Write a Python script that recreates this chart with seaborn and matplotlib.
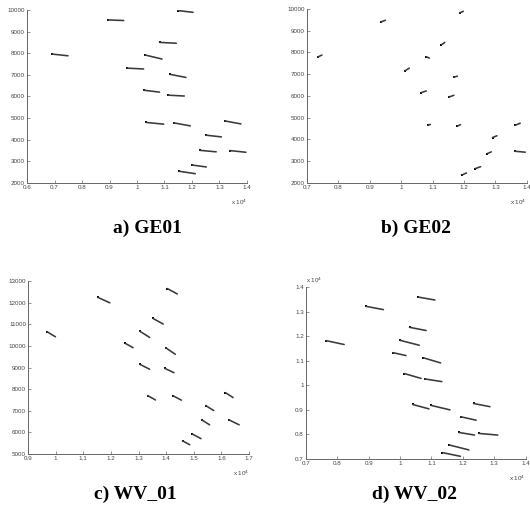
import matplotlib
matplotlib.use("Agg")
import matplotlib.pyplot as plt
import seaborn as sns
import pandas as pd
import numpy as np
from matplotlib.ticker import FuncFormatter, FixedLocator

sns.set_style("white")
plt.rcParams['font.family'] = ['Liberation Sans', 'DejaVu Sans']

# ---- data: start (x0,y0) and end (x1,y1) of each displacement segment ----
ge01_x0 = [11490, 8945, 10820, 6910, 10300, 9640, 11210, 10240, 11130, 10330, 11330, 13190, 12510, 12280, 13370, 12000, 11540]
ge01_y0 = [9970, 9540, 8500, 7960, 7915, 7310, 7020, 6290, 6060, 4800, 4780, 4870, 4210, 3510, 3500, 2830, 2540]
ge01_x1 = [12040, 9515, 11430, 7490, 10910, 10240, 11780, 10820, 11720, 10970, 11940, 13780, 13070, 12880, 13960, 12520, 12120]
ge01_y1 = [9890, 9510, 8460, 7880, 7730, 7270, 6880, 6200, 6020, 4720, 4640, 4730, 4130, 3440, 3420, 2740, 2430]

ge02_x0 = [7340, 9360, 11860, 11280, 10800, 10120, 11670, 10630, 11520, 10850, 11790, 13630, 12910, 12740, 13610, 12360, 11940]
ge02_y0 = [7785, 9400, 9815, 8350, 7800, 7150, 6860, 6150, 5950, 4650, 4615, 4650, 4090, 3350, 3460, 2660, 2370]
ge02_x1 = [7480, 9500, 11980, 11390, 10900, 10260, 11790, 10800, 11680, 10930, 11890, 13790, 13050, 12870, 13950, 12530, 12080]
ge02_y1 = [7880, 9480, 9890, 8460, 7740, 7280, 6910, 6230, 6030, 4690, 4680, 4750, 4170, 3430, 3415, 2750, 2460]

wv01_x0 = [9690, 11530, 14040, 13520, 13040, 12520, 13980, 13040, 13950, 13330, 14250, 16140, 15430, 15285, 16270, 14950, 14590]
wv01_y0 = [10650, 12240, 12650, 11270, 10680, 10115, 9915, 9150, 8960, 7700, 7690, 7840, 7240, 6580, 6580, 5920, 5610]
wv01_x1 = [9990, 11960, 14400, 13890, 13400, 12800, 14330, 13400, 14280, 13610, 14550, 16420, 15720, 15570, 16640, 15260, 14850]
wv01_y1 = [10420, 11990, 12400, 11010, 10390, 9915, 9610, 8920, 8760, 7500, 7490, 7610, 7010, 6350, 6350, 5710, 5430]

wv02_x0 = [7640, 8930, 10580, 10300, 10000, 9770, 10740, 10130, 10780, 10400, 10990, 12340, 11930, 11880, 12520, 11570, 11350]
wv02_y0 = [11820, 13210, 13590, 12360, 11830, 11330, 11120, 10480, 10260, 9220, 9180, 9260, 8720, 8080, 8040, 7570, 7260]
wv02_x1 = [8220, 9470, 11110, 10830, 10610, 10190, 11290, 10670, 11330, 10920, 11590, 12860, 12420, 12370, 13110, 12190, 11920]
wv02_y1 = [11660, 13080, 13470, 12230, 11630, 11210, 10910, 10280, 10150, 9040, 9000, 9130, 8580, 7975, 7975, 7370, 7110]

titles = ["a) GE01", "b) GE02", "c) WV_01", "d) WV_02"]
x_ticks = [[6000, 7000, 8000, 9000, 10000, 11000, 12000, 13000, 14000],
           [7000, 8000, 9000, 10000, 11000, 12000, 13000, 14000],
           [9000, 10000, 11000, 12000, 13000, 14000, 15000, 16000, 17000],
           [7000, 8000, 9000, 10000, 11000, 12000, 13000, 14000]]
y_ticks = [[2000, 3000, 4000, 5000, 6000, 7000, 8000, 9000, 10000],
           [2000, 3000, 4000, 5000, 6000, 7000, 8000, 9000, 10000],
           [5000, 6000, 7000, 8000, 9000, 10000, 11000, 12000, 13000],
           [7000, 8000, 9000, 10000, 11000, 12000, 13000, 14000]]

panels = [(ge01_x0, ge01_y0, ge01_x1, ge01_y1),
          (ge02_x0, ge02_y0, ge02_x1, ge02_y1),
          (wv01_x0, wv01_y0, wv01_x1, wv01_y1),
          (wv02_x0, wv02_y0, wv02_x1, wv02_y1)]

# axes rectangles in figure fraction
rects = [[0.051, 0.6447, 0.415, 0.336],
         [0.579, 0.6447, 0.415, 0.338],
         [0.053, 0.1184, 0.417, 0.336],
         [0.577, 0.1087, 0.415, 0.334]]
title_pos = [(147, 228), (416, 228), (135, 494), (415, 494)]
y_scaled = [False, False, False, True]

fig = plt.figure(figsize=(5.30, 5.15), dpi=100)
fmt = FuncFormatter(lambda v, p: "%g" % round(v / 1e4, 3))
plain = FuncFormatter(lambda v, p: "%d" % v)

for i, (x0, y0, x1, y1) in enumerate(panels):
    ax = fig.add_axes(rects[i])
    rows = []
    for k in range(len(x0)):
        rows.append({"id": k, "x": x0[k], "y": y0[k]})
        rows.append({"id": k, "x": x1[k], "y": y1[k]})
    seg = pd.DataFrame(rows)
    sns.lineplot(data=seg, x="x", y="y", units="id", estimator=None, sort=False,
                 color="#3a3a3a", linewidth=1.15, ax=ax)
    starts = pd.DataFrame({"x": x0, "y": y0})
    sns.scatterplot(data=starts, x="x", y="y", color="black", s=4, marker="s",
                    linewidth=0, ax=ax)
    ax.set_xlim(x_ticks[i][0], x_ticks[i][-1])
    ax.set_ylim(y_ticks[i][0], y_ticks[i][-1])
    ax.xaxis.set_major_locator(FixedLocator(x_ticks[i]))
    ax.yaxis.set_major_locator(FixedLocator(y_ticks[i]))
    ax.xaxis.set_major_formatter(fmt)
    ax.yaxis.set_major_formatter(fmt if y_scaled[i] else plain)
    ax.set_xlabel("")
    ax.set_ylabel("")
    for s in ["top", "right"]:
        ax.spines[s].set_visible(False)
    for s in ["left", "bottom"]:
        ax.spines[s].set_color("#666666")
        ax.spines[s].set_linewidth(0.7)
    ax.tick_params(axis="both", direction="in", length=2, width=0.5,
                   colors="#666666", labelcolor="#444444", labelsize=4.5, pad=1.5,
                   left=True, bottom=True)
    ax.text(1.0, -0.11, r"x 10$^{4}$", transform=ax.transAxes, ha="right",
            va="center", fontsize=4.5, color="#444444")
    if y_scaled[i]:
        ax.text(0.0, 1.04, r"x 10$^{4}$", transform=ax.transAxes, ha="left",
                va="center", fontsize=4.5, color="#444444")
    tx, ty = title_pos[i]
    fig.text(tx / 530, 1 - ty / 515, titles[i], ha="center", va="center",
             fontsize=14, fontweight="bold", color="black",
             family=["Liberation Serif", "DejaVu Serif"])

fig.savefig("out.png", dpi=100)
